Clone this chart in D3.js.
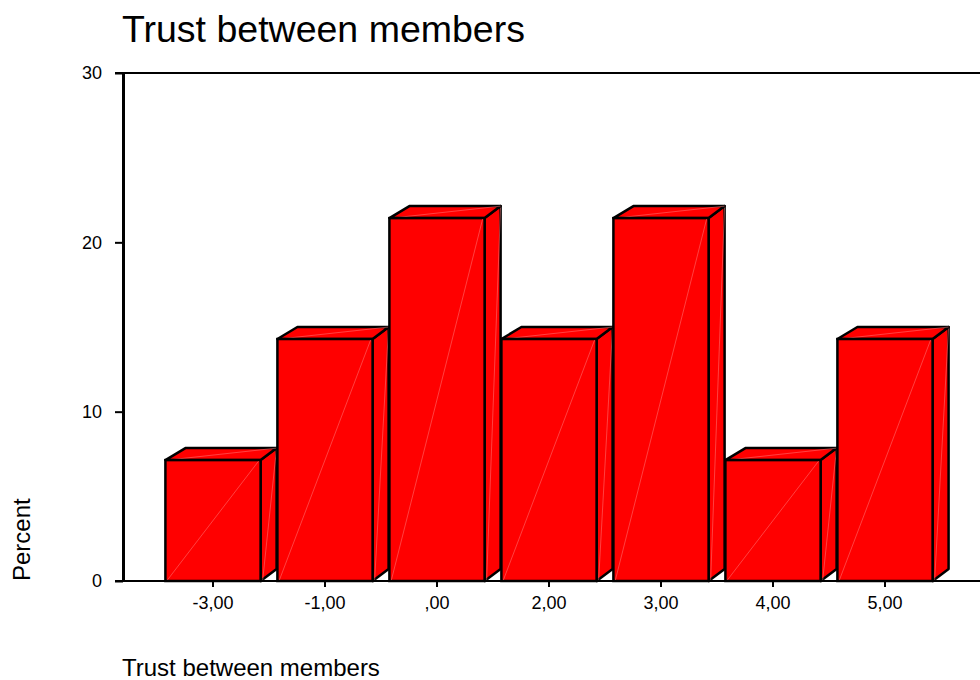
<!DOCTYPE html>
<html lang="en">
<head>
    <meta charset="UTF-8">
    <title>Trust between members</title>
    <script src="https://d3js.org/d3.v7.min.js"></script>
    <style>
        body {
            margin: 0;
            background: #fff;
            font-family: "Liberation Sans", Arial, sans-serif;
        }
        svg text {
            fill: #000;
        }
    </style>
</head>
<body>
    <div id="chart"></div>
    <script>
        // Data (percent of cases per value)
        const categories = ["-3,00", "-1,00", ",00", "2,00", "3,00", "4,00", "5,00"];
        const percents = [7.14, 14.29, 21.43, 14.29, 21.43, 7.14, 14.29];
        const yTicks = [0, 10, 20, 30];

        const width = 980;
        const height = 680;

        const svg = d3.select("#chart")
            .append("svg")
            .attr("width", width)
            .attr("height", height);

        // Scales
        const x = d3.scaleBand()
            .domain(categories)
            .range([157, 941])
            .paddingInner(0.15)
            .paddingOuter(0.075);

        const y = d3.scaleLinear()
            .domain([0, 30])
            .range([581, 73]);

        const axisX = 123;
        const depthX = 16, depthLeftX = 20, depthY = 12;

        // Title
        svg.append("text")
            .attr("x", 122)
            .attr("y", 42)
            .style("font-size", "37.5px")
            .text("Trust between members");

        // Top frame line at 30
        svg.append("line")
            .attr("x1", 115).attr("x2", width)
            .attr("y1", y(30)).attr("y2", y(30))
            .attr("stroke", "#000").attr("stroke-width", 2);

        // Bars (3D look: side, top, front)
        const bars = svg.append("g");
        percents.forEach((v, i) => {
            const x0 = x(categories[i]);
            const x1 = x0 + x.bandwidth();
            const yT = y(v);
            const yB = y(0);
            const g = bars.append("g");

            // side face
            g.append("polygon")
                .attr("points", [[x1, yT], [x1 + depthX, yT - depthY], [x1 + depthX, yB - depthY], [x1, yB]].join(" "))
                .attr("fill", "#ff0000").attr("stroke", "#000").attr("stroke-width", 2.5)
                .attr("stroke-linejoin", "round");
            g.append("line")
                .attr("x1", x1 + depthX).attr("y1", yT - depthY)
                .attr("x2", x1 + 2).attr("y2", yB)
                .attr("stroke", "#ff8080").attr("stroke-width", 0.5);

            // top face
            g.append("polygon")
                .attr("points", [[x0, yT], [x0 + depthLeftX, yT - depthY], [x1 + depthX, yT - depthY], [x1, yT]].join(" "))
                .attr("fill", "#ff0000").attr("stroke", "#000").attr("stroke-width", 2.5)
                .attr("stroke-linejoin", "round");
            g.append("line")
                .attr("x1", x0 + 2).attr("y1", yT)
                .attr("x2", x1 + depthX).attr("y2", yT - depthY)
                .attr("stroke", "#ff8080").attr("stroke-width", 0.5);

            // front face
            g.append("rect")
                .attr("x", x0).attr("y", yT)
                .attr("width", x.bandwidth()).attr("height", yB - yT)
                .attr("fill", "#ff0000").attr("stroke", "#000").attr("stroke-width", 2.5);
            g.append("line")
                .attr("x1", x0 + 2).attr("y1", yB - 1)
                .attr("x2", x1 - 2).attr("y2", yT + 1)
                .attr("stroke", "#ff8080").attr("stroke-width", 0.5);
        });

        // X baseline
        svg.append("line")
            .attr("x1", 115).attr("x2", width)
            .attr("y1", y(0)).attr("y2", y(0))
            .attr("stroke", "#000").attr("stroke-width", 2);

        // X axis ticks and labels
        const xAxis = svg.append("g")
            .attr("transform", `translate(0, ${y(0)})`)
            .call(d3.axisBottom(x).tickSize(6).tickSizeOuter(0).tickPadding(9));
        xAxis.select(".domain").remove();
        xAxis.selectAll(".tick line").attr("stroke", "#000").attr("stroke-width", 2);
        xAxis.selectAll(".tick text")
            .style("font-family", "'Liberation Sans', Arial, sans-serif")
            .style("font-size", "18px");

        // Y axis
        const yAxis = svg.append("g")
            .attr("transform", `translate(${axisX}, 0)`)
            .call(d3.axisLeft(y).tickValues(yTicks).tickSize(8).tickSizeOuter(0).tickPadding(13));
        yAxis.select(".domain").attr("stroke", "#000").attr("stroke-width", 3);
        yAxis.selectAll(".tick line").attr("stroke", "#000").attr("stroke-width", 2);
        yAxis.selectAll(".tick text")
            .style("font-family", "'Liberation Sans', Arial, sans-serif")
            .style("font-size", "18px");

        // Axis titles
        svg.append("text")
            .attr("transform", `translate(30, ${y(0)}) rotate(-90)`)
            .attr("text-anchor", "start")
            .style("font-size", "24px")
            .text("Percent");

        svg.append("text")
            .attr("x", 122)
            .attr("y", 676)
            .style("font-size", "24px")
            .text("Trust between members");
    </script>
</body>
</html>
